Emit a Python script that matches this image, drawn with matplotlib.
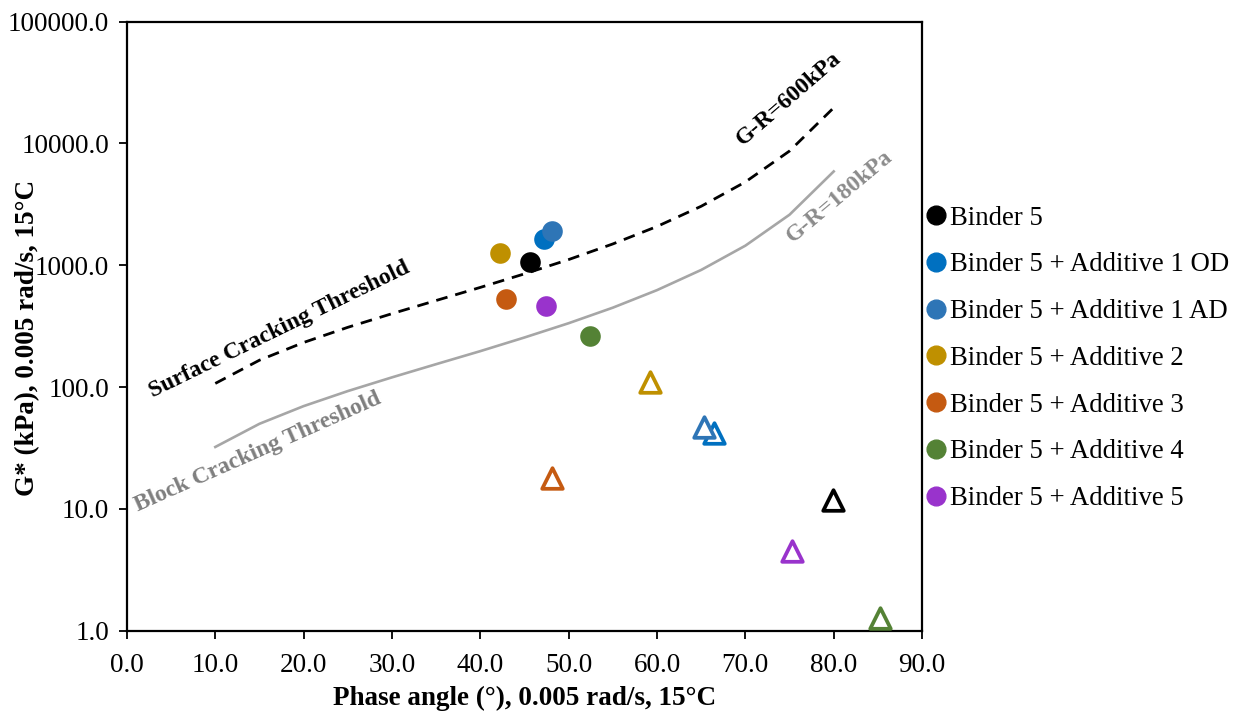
import matplotlib
matplotlib.use("Agg")
import matplotlib.pyplot as plt
from matplotlib.lines import Line2D

plt.rcParams['font.family'] = ['Liberation Serif', 'DejaVu Serif']

# binder labels and colours
labels = ["Binder 5", "Binder 5 + Additive 1 OD", "Binder 5 + Additive 1 AD",
          "Binder 5 + Additive 2", "Binder 5 + Additive 3", "Binder 5 + Additive 4",
          "Binder 5 + Additive 5"]
colors = ["#000000", "#0070C0", "#2E75B6", "#BF9000", "#C55A11", "#548235", "#9933CC"]

# filled circles
circ_delta = [45.6, 47.2, 48.1, 42.2, 42.9, 52.4, 47.4]
circ_g = [1060, 1640, 1910, 1260, 527, 262, 462]

# open triangles
tri_delta = [79.9, 66.5, 65.3, 59.2, 48.1, 85.2, 75.3]
tri_g = [11.9, 41.7, 46.7, 109, 17.8, 1.26, 4.55]

# threshold curves (G-R = 600 kPa and 180 kPa)
thr_delta = [10, 15, 20, 25, 30, 35, 40, 45, 50, 55, 60, 65, 70, 75, 80]
g_600 = [107, 166, 232, 309, 400, 513, 657, 849, 1112, 1494, 2078, 3045, 4820, 8652, 19600]
g_180 = [32.2, 49.9, 69.7, 92.6, 120, 154, 197, 255, 334, 448, 624, 914, 1446, 2596, 5880]

fig = plt.figure(figsize=(12.41, 7.17), dpi=100)
ax = fig.add_axes([0.1023, 0.1204, 0.6407, 0.8496])

ax.plot(thr_delta, g_600, color="black", lw=2.0, dashes=(4.2, 2.9), zorder=2)
ax.plot(thr_delta, g_180, color="#A6A6A6", lw=1.9, zorder=2)

for i in range(len(labels)):
    ax.scatter(circ_delta[i], circ_g[i], s=220, color=colors[i], zorder=3, linewidths=0)
    ax.scatter(tri_delta[i], tri_g[i], s=220, marker="^", facecolors="white",
               edgecolors=colors[i], linewidths=2.7, zorder=3)

ax.set_yscale("log")
ax.set_xlim(0, 90)
ax.set_ylim(1, 100000)
ax.set_xticks(range(0, 91, 10))
ax.set_xticklabels([f"{v:.1f}" for v in range(0, 91, 10)])
yt = [1, 10, 100, 1000, 10000, 100000]
ax.set_yticks(yt)
ax.set_yticklabels([f"{v:.1f}" for v in yt])
ax.minorticks_off()
ax.tick_params(labelsize=19.5, direction="out", length=6, width=1.3)
ax.tick_params(axis="x", pad=10)
ax.tick_params(axis="y", pad=7)
for sp in ax.spines.values():
    sp.set_linewidth(1.6)

ax.set_xlabel("Phase angle (°), 0.005 rad/s, 15°C", fontsize=19.5, fontweight="bold", va="center")
ax.xaxis.set_label_coords(0.5, -0.111)
ax.set_ylabel("G* (kPa), 0.005 rad/s, 15°C", fontsize=19.5, fontweight="bold", va="center")
ax.yaxis.set_label_coords(-0.125, 0.48)

ax.text(17.3, 296, "Surface Cracking Threshold", rotation=26, fontsize=17, fontweight="bold",
        color="black", ha="center", va="center", rotation_mode="anchor")
ax.text(14.8, 29.4, "Block Cracking Threshold", rotation=24, fontsize=17, fontweight="bold",
        color="#7F7F7F", ha="center", va="center", rotation_mode="anchor")
ax.text(74.9, 23400, "G-R=600kPa", rotation=41, fontsize=17, fontweight="bold",
        color="black", ha="center", va="center", rotation_mode="anchor")
ax.text(80.7, 3660, "G-R=180kPa", rotation=40, fontsize=17, fontweight="bold",
        color="#8C8C8C", ha="center", va="center", rotation_mode="anchor")

handles = [Line2D([], [], ls="none", marker="o", ms=13.5, color=c, mec=c) for c in colors]
ax.legend(handles, labels, loc="center left", bbox_to_anchor=(1.0063, 0.447), frameon=False,
          fontsize=19.3, handlelength=0.7, handletextpad=0.15, labelspacing=0.81,
          borderpad=0, borderaxespad=0)

fig.savefig("out.png", dpi=100)
